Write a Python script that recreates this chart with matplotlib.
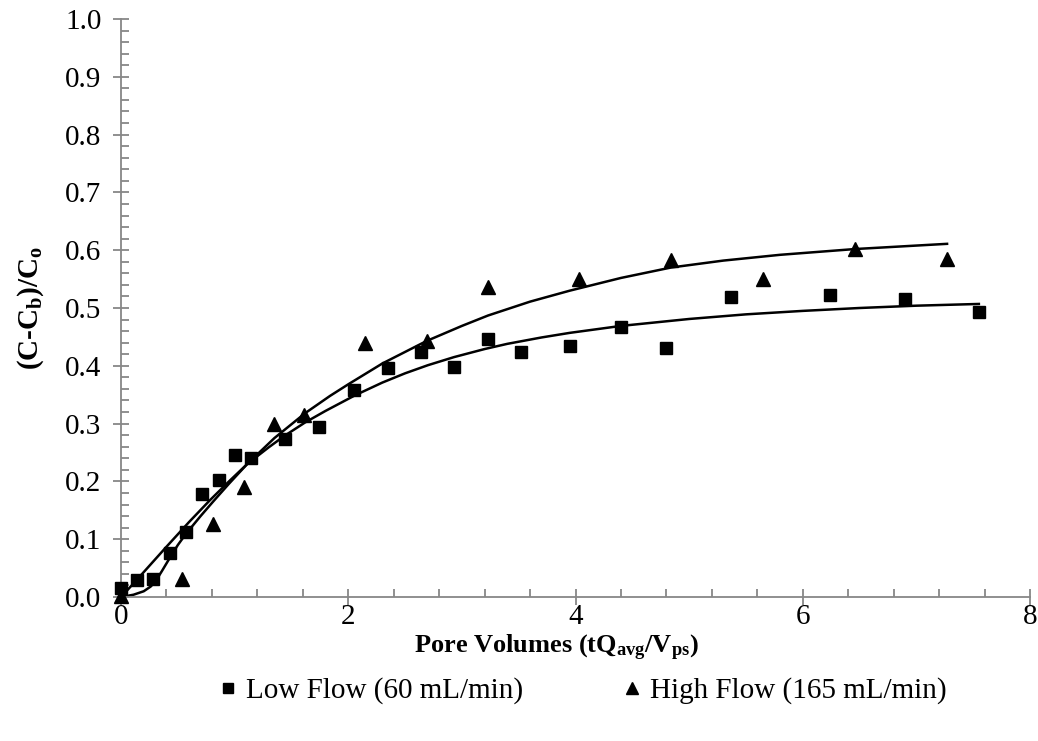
import matplotlib.pyplot as plt
from matplotlib.ticker import MultipleLocator

plt.rcParams['font.family'] = ['Liberation Serif', 'DejaVu Serif']
plt.rcParams['mathtext.fontset'] = 'custom'
plt.rcParams['mathtext.rm'] = 'Liberation Serif'
plt.rcParams['mathtext.it'] = 'Liberation Serif:italic'
plt.rcParams['mathtext.bf'] = 'Liberation Serif:bold'

# measured breakthrough data, low flow (60 mL/min)
pv_low = [0.0, 0.14, 0.28, 0.43, 0.57, 0.71, 0.86, 1.0, 1.14, 1.44, 1.74, 2.05,
          2.35, 2.64, 2.93, 3.23, 3.52, 3.95, 4.40, 4.80, 5.37, 6.24, 6.90, 7.55]
c_low = [0.016, 0.029, 0.031, 0.077, 0.113, 0.178, 0.202, 0.246, 0.241, 0.273, 0.294, 0.358,
         0.397, 0.424, 0.398, 0.447, 0.424, 0.434, 0.467, 0.431, 0.519, 0.522, 0.516, 0.493]

# measured breakthrough data, high flow (165 mL/min)
pv_high = [0.0, 0.54, 0.81, 1.08, 1.35, 1.61, 2.15, 2.69, 3.23, 4.03, 4.84, 5.65, 6.46, 7.27]
c_high = [0.002, 0.031, 0.127, 0.191, 0.300, 0.315, 0.440, 0.443, 0.537, 0.551, 0.583, 0.551, 0.602, 0.584]

# fitted model curves
fit_pv_low = [0.0, 0.14, 0.4, 0.6, 0.78, 0.95, 1.11, 1.3, 1.44, 1.62, 1.8, 2.06, 2.3, 2.5,
              2.7, 2.93, 3.2, 3.4, 3.7, 3.95, 4.4, 5.0, 5.5, 6.0, 6.5, 7.0, 7.55]
fit_c_low = [0.0, 0.03, 0.087, 0.13, 0.167, 0.2, 0.23, 0.259, 0.279, 0.302, 0.322, 0.349, 0.371, 0.387,
             0.401, 0.415, 0.429, 0.438, 0.449, 0.457, 0.469, 0.481, 0.489, 0.495, 0.5, 0.504, 0.507]

fit_pv_high = [0.0, 0.11, 0.2, 0.26, 0.3, 0.36, 0.43, 0.5, 0.57, 0.7, 0.81, 0.95, 1.11, 1.35,
               1.62, 1.84, 2.0, 2.3, 2.69, 3.0, 3.23, 3.6, 3.95, 4.4, 4.84, 5.3, 5.8, 6.46, 7.27]
fit_c_high = [0.0, 0.004, 0.01, 0.018, 0.026, 0.045, 0.068, 0.09, 0.109, 0.14, 0.165, 0.196, 0.23, 0.275,
              0.318, 0.348, 0.368, 0.404, 0.443, 0.469, 0.487, 0.511, 0.53, 0.552, 0.57, 0.582, 0.592,
              0.602, 0.611]

fig = plt.figure(figsize=(10.38, 7.41), dpi=100)
ax = fig.add_axes([0.1166, 0.1943, 0.8757, 0.7801])

ax.plot(fit_pv_low, fit_c_low, color='black', lw=1.8, zorder=2)
ax.plot(fit_pv_high, fit_c_high, color='black', lw=1.8, zorder=2)
ax.plot(pv_low, c_low, 's', color='black', ms=9, ls='none', zorder=3, clip_on=False)
ax.plot(pv_high, c_high, '^', color='black', ms=10, ls='none', zorder=3, clip_on=False)

ax.set_xlim(0, 8)
ax.set_ylim(0, 1.0)
ax.xaxis.set_major_locator(MultipleLocator(2))
ax.xaxis.set_minor_locator(MultipleLocator(0.4))
ax.yaxis.set_major_locator(MultipleLocator(0.1))
ax.yaxis.set_minor_locator(MultipleLocator(0.02))
ax.yaxis.set_major_formatter(plt.FormatStrFormatter('%.1f'))

for s in ['top', 'right']:
    ax.spines[s].set_visible(False)
for s in ['left', 'bottom']:
    ax.spines[s].set_color('#878787')
    ax.spines[s].set_linewidth(1.3)

ax.tick_params(which='major', direction='inout', length=12, width=1.3, color='#878787',
               labelsize=21, labelcolor='black')
ax.tick_params(which='minor', direction='in', length=6, width=1.3, color='#878787')
ax.tick_params(axis='y', which='major', pad=8)
ax.tick_params(axis='x', which='major', pad=-1)

ax.set_xlabel(r'Pore Volumes (t$\mathbf{Q_{avg}}$/$\mathbf{V_{ps}}$)', fontsize=19,
              fontweight='bold')
ax.xaxis.set_label_coords(0.4785, -0.062)
ax.set_ylabel(r'$\mathbf{(C}$-$\mathbf{C_b)/C_o}$', fontsize=21, fontweight='bold', labelpad=14)

h1, = ax.plot([], [], 's', color='black', ms=7)
h2, = ax.plot([], [], '^', color='black', ms=8)
fig.legend([h1, h2], ['Low Flow (60 mL/min)', 'High Flow (165 mL/min)'], loc='center',
           bbox_to_anchor=(0.563, 0.068), ncol=2, frameon=False, fontsize=21,
           handlelength=0.4, handletextpad=0.45, columnspacing=3.5)

plt.savefig('out.png', dpi=100)
plt.close(fig)
